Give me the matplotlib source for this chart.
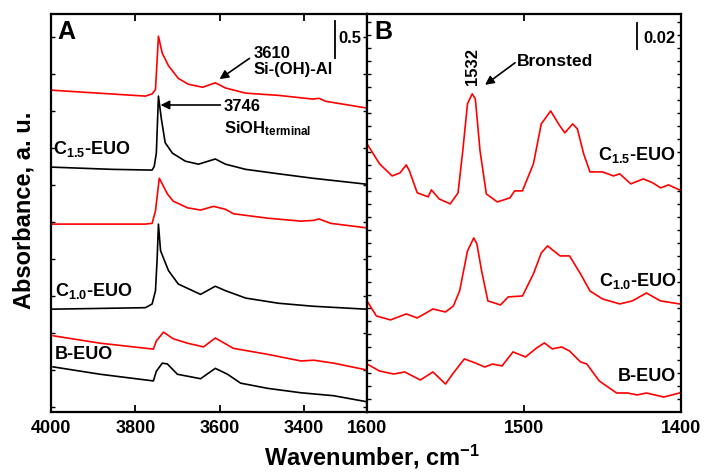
import matplotlib
matplotlib.use("Agg")
import matplotlib.pyplot as plt
import numpy as np

plt.rcParams['font.family'] = ['Liberation Sans', 'DejaVu Sans']
plt.rcParams['font.weight'] = 'bold'
plt.rcParams['mathtext.fontset'] = 'custom'
plt.rcParams['mathtext.rm'] = 'Liberation Sans:bold'
plt.rcParams['mathtext.bf'] = 'Liberation Sans:bold'
plt.rcParams['mathtext.it'] = 'Liberation Sans:bold'
plt.rcParams['mathtext.default'] = 'bf'
plt.rcParams['lines.solid_joinstyle'] = 'round'

# panel A: OH region (wavenumber, absorbance with stacking offset)
c15_py_wn = [3998, 3776, 3760, 3752, 3745, 3736, 3721, 3698, 3674, 3640, 3610, 3586, 3538, 3460, 3379, 3364, 3348, 3252]
c15_py_abs = [4.35, 4.27, 4.30, 4.36, 5.08, 4.85, 4.68, 4.51, 4.43, 4.39, 4.45, 4.38, 4.31, 4.28, 4.23, 4.24, 4.20, 4.11]

c15_wn = [3998, 3855, 3760, 3755, 3750, 3745, 3738, 3729, 3712, 3681, 3650, 3610, 3586, 3538, 3460, 3379, 3252]
c15_abs = [3.31, 3.28, 3.27, 3.32, 3.50, 4.27, 3.96, 3.64, 3.50, 3.39, 3.35, 3.42, 3.35, 3.28, 3.22, 3.16, 3.08]

c10_py_wn = [3998, 3776, 3760, 3752, 3743, 3733, 3724, 3710, 3676, 3645, 3614, 3586, 3567, 3486, 3407, 3376, 3364, 3336, 3252]
c10_py_abs = [2.54, 2.54, 2.55, 2.72, 3.16, 3.05, 2.95, 2.85, 2.76, 2.73, 2.78, 2.74, 2.68, 2.62, 2.58, 2.59, 2.61, 2.55, 2.49]

c10_wn = [3998, 3776, 3760, 3752, 3748, 3745, 3740, 3733, 3721, 3698, 3664, 3645, 3610, 3586, 3538, 3460, 3379, 3252]
c10_abs = [1.39, 1.41, 1.46, 1.64, 2.08, 2.54, 2.18, 2.08, 1.91, 1.73, 1.64, 1.59, 1.70, 1.64, 1.54, 1.47, 1.43, 1.39]

b_py_wn = [3995, 3883, 3757, 3750, 3733, 3710, 3676, 3638, 3610, 3567, 3486, 3407, 3376, 3329, 3252]
b_py_abs = [1.03, 0.93, 0.85, 0.96, 1.08, 0.99, 0.93, 0.88, 1.00, 0.86, 0.78, 0.69, 0.70, 0.66, 0.57]

b_wn = [3995, 3883, 3757, 3750, 3736, 3724, 3700, 3645, 3610, 3581, 3550, 3486, 3407, 3329, 3252]
b_abs = [0.61, 0.51, 0.42, 0.55, 0.66, 0.65, 0.51, 0.45, 0.59, 0.51, 0.39, 0.32, 0.26, 0.22, 0.14]

# panel B: pyridine region
pc15_wn = [1600, 1592, 1584, 1579, 1575, 1573, 1568, 1561, 1559, 1554, 1547, 1542, 1539, 1536, 1533, 1531,
           1528, 1524, 1517, 1509, 1506, 1501, 1494, 1489, 1483, 1478, 1474, 1469, 1466, 1462, 1458, 1450,
           1443, 1439, 1432, 1424, 1418, 1413, 1408, 1401]
pc15_abs = [0.2062, 0.1908, 0.1815, 0.1838, 0.1900, 0.1854, 0.1685, 0.1654, 0.1708, 0.1638, 0.1600, 0.1685,
            0.2008, 0.2369, 0.2446, 0.2408, 0.2008, 0.1677, 0.1615, 0.1646, 0.1700, 0.1700, 0.1908, 0.2215,
            0.2315, 0.2215, 0.2146, 0.2215, 0.2177, 0.1985, 0.1846, 0.1846, 0.1815, 0.1831, 0.1754, 0.1792,
            0.1762, 0.1723, 0.1746, 0.1708]

pc10_wn = [1600, 1594, 1585, 1575, 1568, 1558, 1550, 1545, 1541, 1536, 1532, 1530, 1527, 1523, 1515, 1510,
           1501, 1494, 1489, 1485, 1477, 1471, 1464, 1458, 1450, 1439, 1431, 1422, 1413, 1401]
pc10_abs = [0.0854, 0.0738, 0.0708, 0.0754, 0.0723, 0.0792, 0.0769, 0.0815, 0.0931, 0.1238, 0.1338, 0.1292,
            0.1085, 0.0854, 0.0823, 0.0885, 0.0892, 0.1062, 0.1223, 0.1277, 0.1200, 0.1200, 0.1062, 0.0931,
            0.0869, 0.0831, 0.0854, 0.0915, 0.0854, 0.0831]

pb_wn = [1600, 1592, 1583, 1576, 1566, 1558, 1550, 1545, 1538, 1531, 1525, 1520, 1514, 1507, 1499, 1492,
         1487, 1482, 1476, 1471, 1464, 1460, 1452, 1441, 1434, 1428, 1422, 1411, 1401]
pb_abs = [0.0369, 0.0315, 0.0292, 0.0308, 0.0246, 0.0308, 0.0215, 0.0300, 0.0408, 0.0377, 0.0346, 0.0369,
          0.0354, 0.0462, 0.0423, 0.0492, 0.0531, 0.0485, 0.0500, 0.0469, 0.0385, 0.0369, 0.0238, 0.0146,
          0.0146, 0.0131, 0.0146, 0.0115, 0.0146]

RED = '#ff0000'

fig = plt.figure(figsize=(7.04, 4.73), dpi=100)
axA = fig.add_axes([51/704, 61/473, 316/704, 398/473])
axB = fig.add_axes([367/704, 61/473, 314/704, 398/473])

axA.plot(c15_py_wn, c15_py_abs, color=RED, lw=1.2)
axA.plot(c15_wn, c15_abs, color='k', lw=1.2)
axA.plot(c10_py_wn, c10_py_abs, color=RED, lw=1.2)
axA.plot(c10_wn, c10_abs, color='k', lw=1.2)
axA.plot(b_py_wn, b_py_abs, color=RED, lw=1.2)
axA.plot(b_wn, b_abs, color='k', lw=1.2)

axB.plot(pc15_wn, pc15_abs, color=RED, lw=1.2)
axB.plot(pc10_wn, pc10_abs, color=RED, lw=1.2)
axB.plot(pb_wn, pb_abs, color=RED, lw=1.2)

axA.set_xlim(4000, 3250)
axA.set_ylim(0, 5.38)
axB.set_xlim(1600, 1400)
axB.set_ylim(0, 0.306)

axA.set_xticks([4000, 3800, 3600, 3400])
axB.set_xticks([1600, 1500, 1400])
axA.set_yticks(np.arange(0.07, 5.38, 0.5))
axB.set_yticks(np.arange(0.01, 0.306, 0.01))

for ax in (axA, axB):
    for s in ax.spines.values():
        s.set_linewidth(1.6)
    ax.tick_params(axis='x', direction='in', top=True, length=5, width=1.3,
                   labelsize=13, pad=6)
    ax.tick_params(axis='y', direction='in', right=True, left=True, length=3, width=1.0,
                   labelleft=False)
    for lab in ax.get_xticklabels():
        lab.set_fontweight('bold')

axA.text(3986, 5.04, 'A', fontsize=18, fontweight='bold')
axB.text(1595.5, 0.2869, 'B', fontsize=18, fontweight='bold')

# scale bars
axA.plot([3326, 3326], [4.78, 5.28], color='k', lw=1.3)
axA.text(3317, 4.99, '0.5', fontsize=12, fontweight='bold')
axB.plot([1428, 1428], [0.2792, 0.2992], color='k', lw=1.3)
axB.text(1424, 0.2838, '0.02', fontsize=12, fontweight='bold')

# sample labels
axA.text(3995, 3.49, r'C$_{1.5}$-EUO', fontsize=13)
axA.text(3990, 1.57, r'C$_{1.0}$-EUO', fontsize=13)
axA.text(3990, 0.72, 'B-EUO', fontsize=13)
axB.text(1453, 0.1938, r'C$_{1.5}$-EUO', fontsize=13)
axB.text(1452, 0.0969, r'C$_{1.0}$-EUO', fontsize=13)
axB.text(1440, 0.0238, 'B-EUO', fontsize=13)

# band annotations
arrow = dict(arrowstyle='-|>', color='k', lw=1.2, mutation_scale=13, shrinkA=0, shrinkB=0)
axA.text(3519, 4.78, '3610', fontsize=12)
axA.text(3519, 4.57, 'Si-(OH)-Al', fontsize=12)
axA.annotate('', xy=(3600, 4.50), xytext=(3529, 4.78), arrowprops=arrow)
axA.text(3590, 4.07, '3746', fontsize=12)
axA.text(3590, 3.77, r'SiOH$_{terminal}$', fontsize=12)
axA.annotate('', xy=(3740, 4.15), xytext=(3598, 4.15), arrowprops=arrow)

axB.text(1533, 0.2654, '1532', fontsize=12, rotation=90, ha='center', va='center')
axB.text(1504.5, 0.2662, 'Bronsted', fontsize=12.5)
axB.annotate('', xy=(1524.8, 0.2515), xytext=(1505.7, 0.2685), arrowprops=arrow)

fig.text(24/704, 1 - 210/473, 'Absorbance, a. u.', rotation=90, fontsize=17,
         fontweight='bold', ha='center', va='center')
fig.text(372/704, 1 - 457/473, r'Wavenumber, cm$^{-1}$', fontsize=17,
         fontweight='bold', ha='center', va='center')

fig.savefig('out.png', dpi=100)
